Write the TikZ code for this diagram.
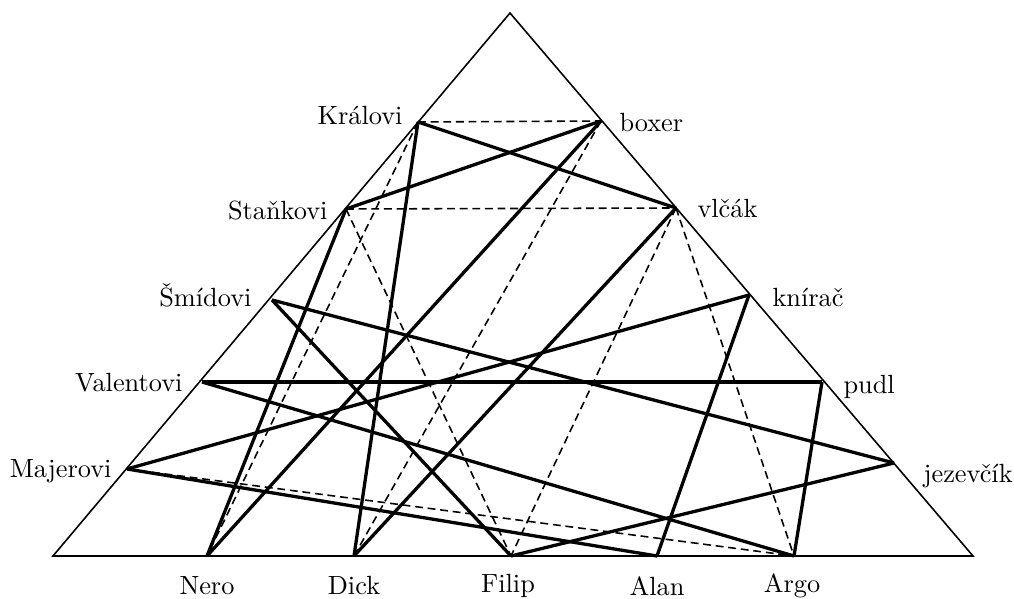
\documentclass[tikz,border=0pt]{standalone}
\usepackage{fontspec}
\begin{document}
\begin{tikzpicture}[x=0.38pt,y=-0.38pt,
  side/.style={line width=0.6pt},
  link/.style={line width=1.25pt},
  dlink/.style={line width=0.6pt,dash pattern=on 3pt off 1.8pt},
  lbl/.style={inner sep=0pt,font=\fontsize{10}{12}\selectfont},
  llbl/.style={lbl,anchor=base east},
  rlbl/.style={lbl,anchor=base west},
  blbl/.style={lbl,anchor=center}]
\useasboundingbox (0,0) rectangle (1014,599);
% triangle corners
\coordinate (T) at (510,13);
\coordinate (BL) at (53,556);
\coordinate (BR) at (973,556);
% points
\coordinate (Kr) at (418,122);
\coordinate (St) at (346,209);
\coordinate (Sm) at (272,300);
\coordinate (Va) at (202,382);
\coordinate (Ma) at (127,469);
\coordinate (bo) at (601,121);
\coordinate (vl) at (676,208);
\coordinate (kn) at (749,295);
\coordinate (pu) at (822,382);
\coordinate (je) at (894,463);
\coordinate (Ne) at (207,556);
\coordinate (Di) at (354,556);
\coordinate (Fi) at (511,556);
\coordinate (Al) at (657,556);
\coordinate (Ar) at (794,556);
% triangle
\draw[side,line join=miter] (T) -- (BL) -- (BR) -- cycle;
% dashed links
\draw[dlink] (Kr) -- (bo);
\draw[dlink] (St) -- (vl);
\draw[dlink] (Kr) -- (Ne);
\draw[dlink] (bo) -- (Di);
\draw[dlink] (St) -- (Fi);
\draw[dlink] (vl) -- (Fi);
\draw[dlink] (vl) -- (Ar);
\draw[dlink] (Ma) -- (Ar);
% solid links
\draw[link] (Kr) -- (vl);
\draw[link] (Kr) -- (Di);
\draw[link] (St) -- (bo);
\draw[link] (St) -- (Ne);
\draw[link] (Sm) -- (je);
\draw[link] (Sm) -- (Fi);
\draw[link] (Va) -- (pu);
\draw[link] (Va) -- (Ar);
\draw[link] (Ma) -- (kn);
\draw[link] (Ma) -- (Al);
\draw[link] (bo) -- (Ne);
\draw[link] (vl) -- (Di);
\draw[link] (kn) -- (Al);
\draw[link] (pu) -- (Ar);
\draw[link] (je) -- (Fi);
% labels
\node[llbl] (lKr) at (403,125) {Královi};
\node[llbl] (lSt) at (328,220) {Staňkovi};
\node[llbl] (lSm) at (252,307) {Šmídovi};
\node[llbl] (lVa) at (183,392) {Valentovi};
\node[llbl] (lMa) at (112,478) {Majerovi};
\node[rlbl] (lbo) at (619,132) {boxer};
\node[rlbl] (lvl) at (697,218) {vlčák};
\node[rlbl] (lkn) at (772,307) {knírač};
\node[rlbl] (lpu) at (843,394) {pudl};
\node[rlbl] (lje) at (923,483) {jezevčík};
\node[blbl] (lNe) at (207,586) {Nero};
\node[blbl] (lDi) at (354,586) {Dick};
\node[blbl] (lFi) at (508,586) {Filip};
\node[blbl] (lAl) at (657,586) {Alan};
\node[blbl] (lAr) at (792,586) {Argo};
\end{tikzpicture}
\end{document}
